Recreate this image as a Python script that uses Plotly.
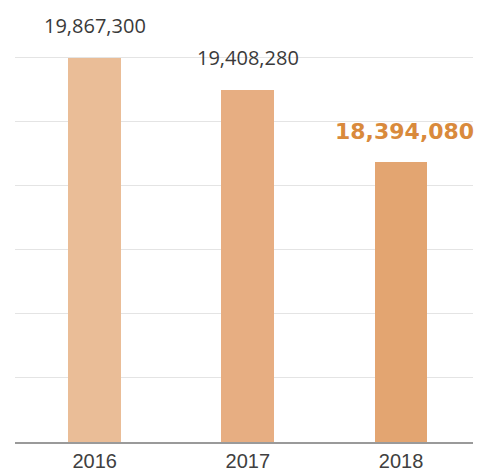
import plotly.graph_objects as go

years = ["2016", "2017", "2018"]
values = [19867300, 19408280, 18394080]
labels = ["19,867,300", "19,408,280", "18,394,080"]
bar_colors = ["#eabd97", "#e7ae82", "#e3a571"]

fig = go.Figure()
fig.add_trace(go.Bar(
    x=years, y=values,
    marker=dict(color=bar_colors, line=dict(width=0)),
    width=0.345,
    hoverinfo="skip",
))

label_styles = [
    dict(size=20, color="#3a3a3a", family="Open Sans"),
    dict(size=20, color="#3a3a3a", family="Open Sans"),
    dict(size=22, color="#d98a3c", family="DejaVu Sans"),
]
yshifts = [32, 33, 30]
xshifts = [0, 0, 3]
for i, (v, t) in enumerate(zip(values, labels)):
    txt = f"<b>{t}</b>" if i == 2 else t
    fig.add_annotation(x=i, y=v, xref="x", yref="y", text=txt, showarrow=False,
                       xanchor="center", yanchor="middle",
                       yshift=yshifts[i], xshift=xshifts[i],
                       font=label_styles[i])

base = 14.42e6
top = base + 422 / 70.5 * 1e6
fig.update_layout(
    width=481, height=475,
    margin=dict(l=15, r=8, t=20, b=33),
    plot_bgcolor="white", paper_bgcolor="white",
    showlegend=False,
    bargap=0,
    xaxis=dict(type="category", range=[-0.52, 2.47], showgrid=False, showline=True,
               automargin=False,
               linecolor="#9a9a9a", linewidth=1.5, ticks="",
               tickfont=dict(size=20, color="#404040", family="Liberation Sans")),
    yaxis=dict(range=[base, top], showticklabels=False, ticks="", automargin=False,
               showgrid=True, gridcolor="#e4e4e4", gridwidth=1,
               tick0=base, dtick=0.908e6, zeroline=False, showline=False),
)
fig.write_html("out.html")
